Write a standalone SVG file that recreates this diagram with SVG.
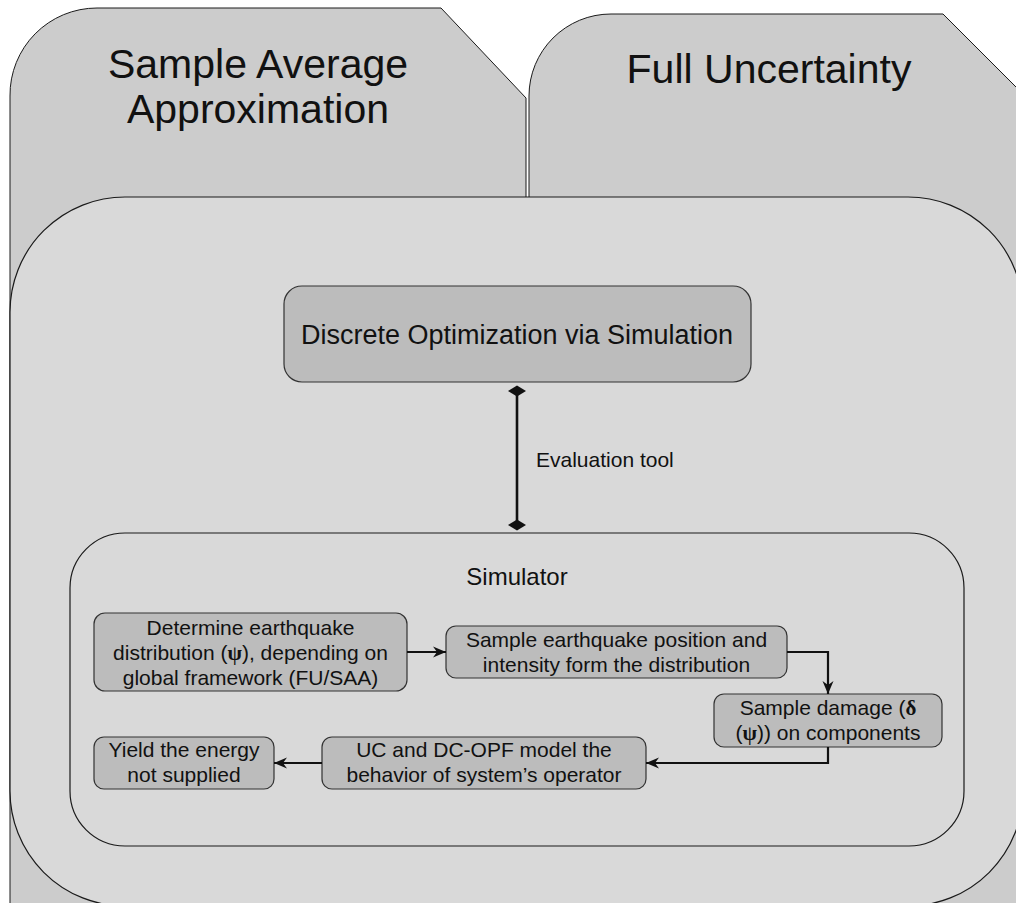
<svg xmlns="http://www.w3.org/2000/svg" width="1016" height="903" viewBox="0 0 1016 903">
  <style>
    .frame { fill: #cccccc; stroke: #1a1a1a; stroke-width: 1; }
    .inner { fill: #d9d9d9; stroke: #1a1a1a; stroke-width: 1.2; }
    .node { fill: #bcbcbc; stroke: #333333; stroke-width: 1.2; }
    .t { font-family: "Liberation Sans", Arial, sans-serif; fill: #111111; text-anchor: middle; }
    .title { font-size: 41px; }
    .big { font-size: 27px; }
    .lbl { font-size: 21px; }
    .g { font-family: "Liberation Serif", "Times New Roman", serif; font-weight: bold; }
    .conn { fill: none; stroke: #111111; stroke-width: 2.2; }
  </style>
  <defs>
    <marker id="arrow" markerUnits="userSpaceOnUse" markerWidth="14" markerHeight="12" refX="13" refY="6" orient="auto">
      <path d="M0,0.5 L13,6 L0,11.5 L4,6 Z" fill="#111111"/>
    </marker>
    <marker id="diamond" markerUnits="userSpaceOnUse" markerWidth="12" markerHeight="18" refX="6" refY="9" orient="auto">
      <path d="M6,0 L11.5,9 L6,18 L0.5,9 Z" fill="#111111"/>
    </marker>
  </defs>

  <g id="saa">
    <path class="frame" d="M10,915 V96 A87,87 0 0 1 97,8 H441 L526,98 V915 Z"/>
    <text class="t title" x="258" y="78">Sample Average</text>
    <text class="t title" x="258" y="123">Approximation</text>
  </g>

  <g id="fu">
    <path class="frame" d="M529,915 V96 A82,82 0 0 1 611,14 H943 L1032,103 V915 Z"/>
    <text class="t title" x="769" y="83">Full Uncertainty</text>
  </g>

  <g id="framework">
    <rect class="inner" x="10" y="197" width="1013" height="709" rx="115" ry="115"/>
  </g>

  <g id="dos">
    <rect class="node" x="284" y="286" width="467" height="96" rx="18" ry="18"/>
    <text class="t big" x="517" y="344">Discrete Optimization via Simulation</text>
  </g>

  <g id="simulator">
    <rect class="inner" x="70" y="533" width="894" height="313" rx="55" ry="55"/>
    <text class="t" style="font-size:24px" x="517" y="585">Simulator</text>
  </g>

  <g id="box1">
    <rect class="node" x="94" y="613" width="313" height="78" rx="11" ry="11"/>
    <text class="t lbl" x="250.5" y="635">Determine earthquake</text>
    <text class="t lbl" x="250.5" y="660">distribution (<tspan class="g">ψ</tspan>), depending on</text>
    <text class="t lbl" x="250.5" y="685">global framework (FU/SAA)</text>
  </g>

  <g id="box2">
    <rect class="node" x="446" y="626" width="341" height="52" rx="10" ry="10"/>
    <text class="t lbl" x="616.5" y="647">Sample earthquake position and</text>
    <text class="t lbl" x="616.5" y="672">intensity form the distribution</text>
  </g>

  <g id="box3">
    <rect class="node" x="714" y="694" width="228" height="53" rx="10" ry="10"/>
    <text class="t lbl" x="828" y="715">Sample damage (<tspan class="g">δ</tspan></text>
    <text class="t lbl" x="828" y="740">(<tspan class="g">ψ</tspan>)) on components</text>
  </g>

  <g id="box4">
    <rect class="node" x="322" y="737" width="324" height="52" rx="10" ry="10"/>
    <text class="t lbl" x="484" y="757">UC and DC-OPF model the</text>
    <text class="t lbl" x="484" y="782">behavior of system’s operator</text>
  </g>

  <g id="box5">
    <rect class="node" x="94" y="737" width="180" height="52" rx="10" ry="10"/>
    <text class="t lbl" x="184" y="757">Yield the energy</text>
    <text class="t lbl" x="184" y="782">not supplied</text>
  </g>

  <g id="connectors">
    <path class="conn" style="stroke-width:2.6" d="M517,391 V525" marker-start="url(#diamond)" marker-end="url(#diamond)"/>
    <text class="t lbl" style="text-anchor:start" x="536" y="467">Evaluation tool</text>
    <path class="conn" d="M407,652 H446" marker-end="url(#arrow)"/>
    <path class="conn" d="M787,652 H828 V694" marker-end="url(#arrow)"/>
    <path class="conn" d="M828,747 V763 H646" marker-end="url(#arrow)"/>
    <path class="conn" d="M322,763 H274" marker-end="url(#arrow)"/>
  </g>
</svg>
